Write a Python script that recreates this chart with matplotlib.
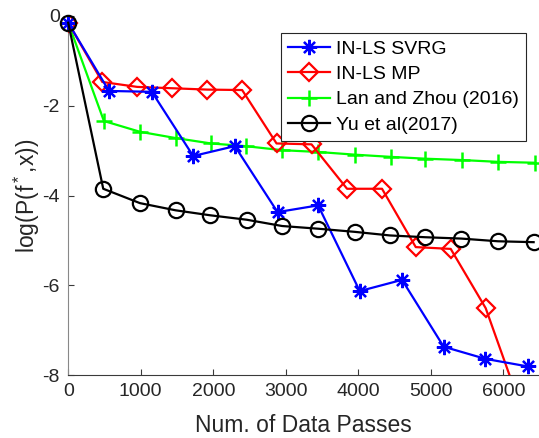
import numpy as np
import matplotlib
matplotlib.use('Agg')
import matplotlib.pyplot as plt

plt.rcParams['font.family'] = ['Liberation Sans', 'DejaVu Sans']
plt.rcParams['mathtext.fontset'] = 'custom'
plt.rcParams['mathtext.rm'] = 'Liberation Sans'
plt.rcParams['axes.unicode_minus'] = False

# data
svrg_x = [0, 562, 1153, 1723, 2297, 2886, 3445, 4019, 4602, 5176, 5751, 6337]
svrg_y = [-0.15, -1.67, -1.69, -3.12, -2.90, -4.37, -4.22, -6.13, -5.88, -7.37, -7.64, -7.81]

mp_x = [0, 470, 952, 1434, 1916, 2398, 2872, 3354, 3844, 4326, 4791, 5273, 5755, 6237]
mp_y = [-0.15, -1.47, -1.58, -1.61, -1.64, -1.65, -2.84, -2.86, -3.85, -3.85, -5.15, -5.19, -6.51, -8.7]

lan_x = [0, 492, 989, 1481, 1967, 2445, 2949, 3445, 3950, 4456, 4924, 5428, 5924, 6430]
lan_y = [-0.15, -2.34, -2.58, -2.72, -2.84, -2.90, -2.99, -3.03, -3.09, -3.14, -3.18, -3.21, -3.25, -3.27]

yu_x = [0, 483, 989, 1481, 1953, 2461, 2949, 3445, 3950, 4433, 4924, 5420, 5924, 6416]
yu_y = [-0.15, -3.85, -4.17, -4.33, -4.44, -4.54, -4.68, -4.74, -4.81, -4.89, -4.93, -4.96, -5.02, -5.04]

labels = ['IN-LS SVRG', 'IN-LS MP', 'Lan and Zhou (2016)', 'Yu et al(2017)']

fig = plt.figure(figsize=(5.39, 4.38), dpi=100)
ax = fig.add_axes([68.2 / 539, 63 / 438, (539 - 68.2) / 539, 359 / 438])

lw = 1.6
ax.plot(svrg_x, svrg_y, color='#0000ff', lw=lw, marker=(8, 2, 0), ms=11, mew=1.6,
        label=labels[0], clip_on=False, zorder=4)
ax.plot(mp_x, mp_y, color='#ff0000', lw=lw, marker='D', ms=9, mew=1.6, mfc='none',
        label=labels[1], zorder=3)
ax.plot(lan_x, lan_y, color='#00ff00', lw=lw, marker='+', ms=12, mew=1.8,
        label=labels[2], clip_on=False, zorder=2)
ax.plot(yu_x, yu_y, color='k', lw=lw, marker='o', ms=11, mew=1.6, mfc='none',
        label=labels[3], clip_on=False, zorder=5)

ax.set_xlim(0, 6490)
ax.set_ylim(-8, 0)
ax.set_xticks(np.arange(0, 6001, 1000))
ax.set_yticks(np.arange(-8, 1, 2))

for s in ['top', 'right']:
    ax.spines[s].set_visible(False)
ax.spines['left'].set_color('#888888')
ax.spines['bottom'].set_color('#3a3a3a')
ax.tick_params(direction='in', length=4, width=0.8, colors='#3a3a3a',
               labelsize=14, labelcolor='#262626', pad=6)

ax.set_xlabel('Num. of Data Passes', fontsize=16.5, color='#262626', labelpad=10)
ax.set_ylabel('log(P(f$^*$,x))', fontsize=16.5, color='#262626', labelpad=0)

leg = ax.legend(loc='upper right', bbox_to_anchor=(0.972, 0.952), borderaxespad=0,
                fontsize=14, fancybox=False, edgecolor='#262626', framealpha=1,
                handlelength=2.2, handletextpad=0.3, labelspacing=0.4,
                borderpad=0.35)
leg.get_frame().set_linewidth(0.8)

fig.savefig('out.png', dpi=100)
